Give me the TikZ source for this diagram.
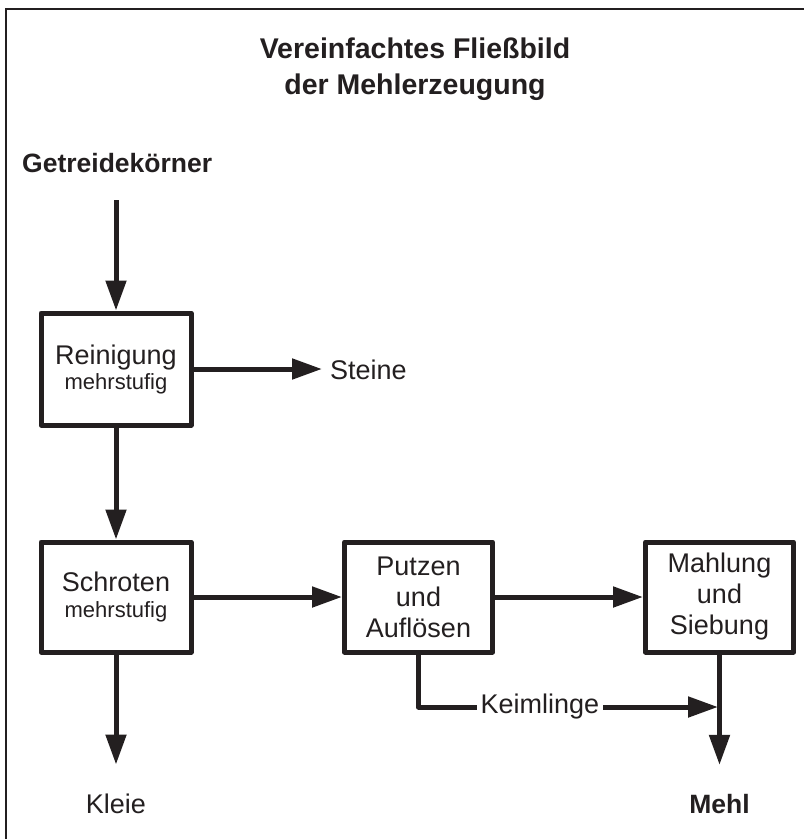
\documentclass[tikz,border=0pt]{standalone}
\usepackage{fontspec}
\setmainfont{Liberation Sans}
\usetikzlibrary{arrows.meta}
\definecolor{ink}{HTML}{231F20}
\begin{document}
\begin{tikzpicture}[x=1pt,y=-1pt,
  every node/.style={text=ink},
  txt/.style={font=\fontsize{27}{31}\selectfont, inner sep=0pt},
  boldtxt/.style={font=\fontsize{26.5}{31}\selectfont\bfseries, inner sep=0pt},
  heading/.style={font=\fontsize{28.5}{34}\selectfont\bfseries, inner sep=0pt, anchor=base},
  proc/.style={draw=ink, line width=5pt, line join=round, minimum width=150pt,
    minimum height=110pt, inner sep=0pt, align=center,
    font=\fontsize{27}{31}\selectfont},
  flow/.style={draw=ink, line width=5pt, line join=round,
    -{Triangle[length=30pt,width=20pt]}}
]
\useasboundingbox (0,0) rectangle (804,839);

% frame (top and left edges)
\draw[ink, line width=2pt] (804,9) -- (6,9) -- (6,839);

% heading
\node[heading] (t1) at (415,58) {Vereinfachtes Fließbild};
\node[heading] (t2) at (415,94) {der Mehlerzeugung};

% input and outputs
\node[boldtxt, anchor=base west] (korn) at (22,172) {Getreidekörner};
\node[txt, anchor=base west] (steine) at (330,379) {Steine};
\node[txt, anchor=base] (kleie) at (116,813) {Kleie};
\node[boldtxt, anchor=base] (mehl) at (719.5,813) {Mehl};

% process steps
\node[proc, minimum height=112pt] (rein) at (116,369)
  {Reinigung\\[-6pt]{\fontsize{22}{24}\selectfont mehrstufig}};
\node[proc] (schr) at (116,597)
  {Schroten\\[-5pt]{\fontsize{22}{24}\selectfont mehrstufig}};
\node[proc, minimum width=148pt] (putz) at (418.5,597) {Putzen\\und\\Auflösen};
\node[proc, minimum width=148pt] (mahl) at (719.5,597) {Mahlung\\und\\Siebung};

% flows
\draw[flow, shorten <=28pt] (korn.south -| rein) -- (rein);
\draw[flow, shorten >=8pt] (rein) -- (rein -| steine.west);
\draw[flow] (rein) -- (schr);
\draw[flow] (schr) -- (putz);
\draw[flow] (putz) -- (mahl);
\draw[flow, shorten >=28.7pt] (schr) -- (kleie.north);
\draw[flow, shorten >=28.7pt] (mahl) -- (mehl.north);

\coordinate (kbend) at (418.5,707);
\coordinate (kend) at (718,707);
\draw[flow] (putz.south) -- (kbend) --
  node[pos=0.405, txt, fill=white, inner xsep=4pt, inner ysep=1pt] (keim) {Keimlinge} (kend);
\end{tikzpicture}
\end{document}
